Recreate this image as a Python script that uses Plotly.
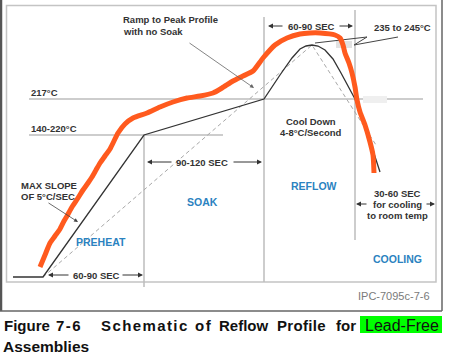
import plotly.graph_objects as go

# ---- schematic coordinates (x: time axis units, y: temperature axis units, y grows downward) ----
solid_x = [13, 43, 144, 264, 280, 292, 300, 306, 312, 318, 325, 333, 341, 348, 355, 368, 380]
solid_y = [277, 277, 135, 99, 75, 58, 49, 46, 45, 46, 50, 59, 73, 86, 99, 135, 172]

ramp_x = [43, 312, 376]
ramp_y = [277, 45, 145]

hand_x = [40, 45, 50, 55, 60, 64, 67, 72, 78, 83, 88, 92, 96, 100, 105, 110, 114, 118, 125, 133,
          147, 160, 173, 187, 200, 213, 222, 233, 243, 253, 263, 275, 287, 300, 310, 320, 335, 340,
          343, 345, 349, 352, 355, 357, 360, 365, 370, 373, 374]
hand_y = [267, 255, 243, 236, 229, 221, 216, 207, 198, 190, 183, 177, 170, 163, 156, 149, 141, 133, 124, 118,
          113, 107, 102, 98, 96, 93, 88, 81, 76, 71, 58, 45, 38, 34, 33, 33, 35, 38,
          45, 53, 63, 73, 87, 100, 112, 125, 142, 155, 173]

zig_x = [315, 367, 354, 398]
zig_y = [43, 37, 45, 37]

level_labels = ["217°C", "140-220°C"]
level_y = [99, 135]
level_x_end = [423, 223]

phase_x = [144, 264, 355]
phase_top = [135, 17, 10]
phase_bottom = [287, 282, 240]

zone_labels = ["PREHEAT", "SOAK", "REFLOW", "COOLING"]
zone_x = [101, 202, 314, 397]
zone_y = [242, 202, 186, 259]

caption_words = ["Figure", "7-6", "Schematic", "of", "Reflow", "Profile", "for"]
caption_x = [2, 54, 99, 193, 217, 275, 334]
caption_spacing = [0, 1.5, 1.4, 1.5, 0, 0.3, 0]

DARK = "#333333"
GRID = "#bdbdbd"
BLUE = "#2b82c0"
FONT = "Liberation Sans, Arial, sans-serif"

fig = go.Figure()

fig.add_trace(go.Scatter(x=ramp_x, y=ramp_y, mode="lines",
                         line=dict(color="#a8a8a8", width=1, dash="4px,3px"), hoverinfo="skip"))
fig.add_trace(go.Scatter(x=solid_x, y=solid_y, mode="lines",
                         line=dict(color=DARK, width=1.3), hoverinfo="skip"))
fig.add_trace(go.Scatter(x=zig_x, y=zig_y, mode="lines",
                         line=dict(color="#444444", width=1), hoverinfo="skip"))
fig.add_trace(go.Scatter(x=hand_x, y=hand_y, mode="lines",
                         line=dict(color="#ff5a1e", width=5, shape="spline", smoothing=0.6), hoverinfo="skip"))

shapes = []
# frames
shapes.append(dict(type="rect", x0=6.5, x1=436, y0=5.5, y1=282, line=dict(color="#c4c4c4", width=1.5), layer="below"))
shapes.append(dict(type="line", x0=1, x1=1, y0=0, y1=311, line=dict(color="#555555", width=2.5)))
shapes.append(dict(type="line", x0=442, x1=442, y0=0, y1=311, line=dict(color="#666666", width=1.5)))
shapes.append(dict(type="line", x0=0, x1=442, y0=311, y1=311, line=dict(color="#666666", width=1.5)))
# level lines
for yv, xe in zip(level_y, level_x_end):
    shapes.append(dict(type="line", x0=29, x1=xe, y0=yv, y1=yv, line=dict(color=GRID, width=1.5), layer="below"))
# phase lines
for xv, t, b in zip(phase_x, phase_top, phase_bottom):
    shapes.append(dict(type="line", x0=xv, x1=xv, y0=t, y1=b, line=dict(color=GRID, width=1.5), layer="below"))
# light patches
shapes.append(dict(type="rect", x0=336, x1=352, y0=41, y1=48, fillcolor="#e2e2e2", line=dict(width=0), layer="below"))
shapes.append(dict(type="rect", x0=363, x1=387, y0=96, y1=103, fillcolor="#efefef", line=dict(width=0), layer="below"))
# highlight behind Lead-Free
shapes.append(dict(type="rect", x0=360, x1=442, y0=316, y1=333, fillcolor="#00ff00", line=dict(width=0), layer="below"))

ann = []

def txt(x, y, s, size=9.5, color=DARK, anchor="left", bold=True, family=FONT, spacing=0):
    body = s
    if spacing:
        body = f'<span style="letter-spacing:{spacing}px">{s}</span>'
    if bold:
        body = f"<b>{body}</b>"
    ann.append(dict(x=x, y=y, text=body, showarrow=False,
                    xanchor=anchor, yanchor="middle", font=dict(size=size, color=color, family=family)))

def arrow(x, y, ax, ay, color=DARK, width=1):
    ann.append(dict(x=x, y=y, ax=ax, ay=ay, axref="x", ayref="y", xref="x", yref="y", text="",
                    showarrow=True, arrowhead=2, arrowsize=1, arrowwidth=width, arrowcolor=color, standoff=0))

txt(121, 19.5, "Ramp to Peak Profile")
txt(121, 31, "with no Soak")
arrow(254, 88, 188, 42, color="#666666", width=0.8)

for lab, yv in zip(level_labels, level_y):
    txt(29, yv - 6.5, lab)

txt(311, 26, "60-90 SEC", anchor="center")
arrow(268, 26, 284, 26)
arrow(353, 26, 338, 26)

txt(402, 27, "235 to 245°C", anchor="center")

txt(311, 121, "Cool Down", anchor="center")
txt(311, 132, "4-8°C/Second", anchor="center")

txt(202, 162, "90-120 SEC", anchor="center")
arrow(147, 162, 173, 162)
arrow(262, 162, 232, 162)

txt(19, 185, "MAX SLOPE")
txt(19, 196, "OF 5°C/SEC")
arrow(78, 222, 47, 202, color="#444444", width=0.8)

txt(96, 275, "60-90 SEC", anchor="center")
arrow(48, 275, 70, 275)
arrow(143, 275, 121, 275)

txt(397, 193, "30-60 SEC", anchor="center")
txt(397, 204, "for cooling", anchor="center")
txt(397, 215, "to room temp", anchor="center")
arrow(356, 204, 368, 204)
arrow(435, 204, 425, 204)

for lab, xv, yv in zip(zone_labels, zone_x, zone_y):
    txt(xv, yv, lab, size=10.5, color=BLUE, anchor="center")

txt(432, 296, "IPC-7095c-7-6", size=11, color="#7a7a7a", anchor="right", bold=False)

for w, xv, sp in zip(caption_words, caption_x, caption_spacing):
    txt(xv, 325.5, w, size=15, color="#111111", spacing=sp)
txt(363, 325, "Lead-Free", size=16, color="#111111", bold=False)
txt(1, 346, "Assemblies", size=15.5, color="#111111")

fig.update_layout(
    width=452, height=361,
    margin=dict(l=0, r=0, t=0, b=0),
    paper_bgcolor="white", plot_bgcolor="white",
    showlegend=False,
    xaxis=dict(range=[0, 452], visible=False, fixedrange=True),
    yaxis=dict(range=[361, 0], visible=False, fixedrange=True),
    shapes=shapes, annotations=ann,
)

fig.write_html("out.html", config={"displayModeBar": False},
               post_script="document.body.style.margin='0';")
